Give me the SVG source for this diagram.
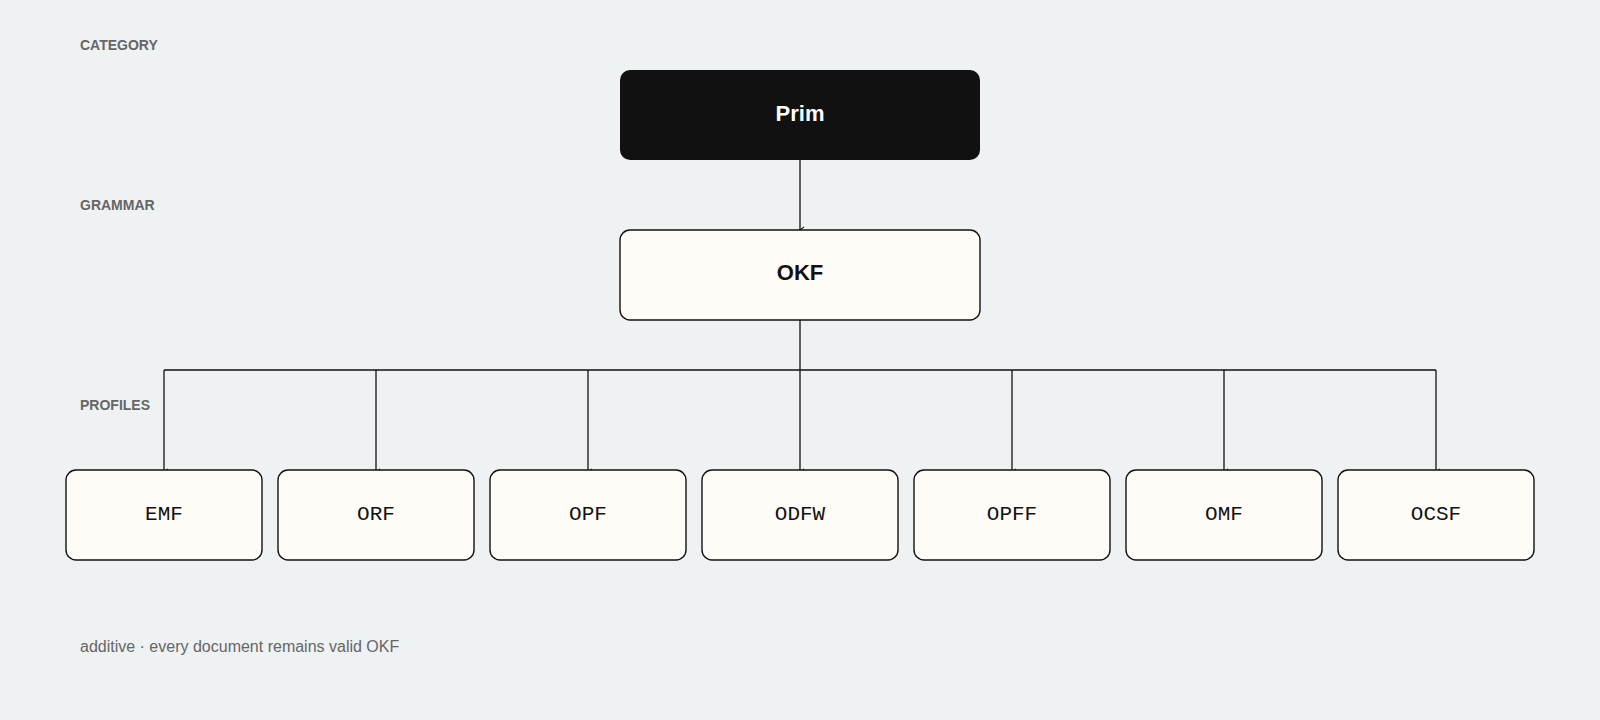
<svg xmlns="http://www.w3.org/2000/svg" width="1600" height="720" viewBox="0 0 1600 720">
<style>
.lbl{font-family:"Liberation Sans",Arial,sans-serif;font-size:14px;font-weight:bold;fill:#666}
.box{fill:#fffcf8;stroke:#111;stroke-width:1.4}
.prof{font-family:"Liberation Mono","Courier New",monospace;font-size:21px;fill:#111;text-anchor:middle}
.ttl{font-family:"Liberation Sans",Arial,sans-serif;font-size:22px;font-weight:bold;text-anchor:middle}
.ln{fill:none;stroke:#111;stroke-width:1.3}
</style>
<defs><marker id="a" viewBox="0 0 10 10" refX="5" refY="9" markerWidth="8" markerHeight="8" orient="auto-start-reverse" markerUnits="userSpaceOnUse"><path d="M1,4 L5,9 L9,4" fill="none" stroke="#111" stroke-width="1.3"/></marker></defs>
<rect width="1600" height="720" fill="#eef2f3"/>
<text class="lbl" x="80" y="50">CATEGORY</text>
<text class="lbl" x="80" y="210">GRAMMAR</text>
<text class="lbl" x="80" y="410">PROFILES</text>
<g id="connectors">
<path class="ln" d="M800,160 V230" marker-end="url(#a)"/>
<path class="ln" d="M800,320 V370 M164,370 H1436"/>
<path class="ln" d="M164,370 V472" marker-end="url(#a)"/>
<path class="ln" d="M376,370 V472" marker-end="url(#a)"/>
<path class="ln" d="M588,370 V472" marker-end="url(#a)"/>
<path class="ln" d="M800,370 V472" marker-end="url(#a)"/>
<path class="ln" d="M1012,370 V472" marker-end="url(#a)"/>
<path class="ln" d="M1224,370 V472" marker-end="url(#a)"/>
<path class="ln" d="M1436,370 V472" marker-end="url(#a)"/>
</g>
<g id="prim"><rect x="620" y="70" width="360" height="90" rx="10" fill="#111"/><text class="ttl" x="800" y="121" fill="#fff">Prim</text></g>
<g id="okf"><rect class="box" x="620" y="230" width="360" height="90" rx="10"/><text class="ttl" x="800" y="280" fill="#111">OKF</text></g>
<g id="emf"><rect class="box" x="66" y="470" width="196" height="90" rx="10"/><text class="prof" x="164" y="520">EMF</text></g>
<g id="orf"><rect class="box" x="278" y="470" width="196" height="90" rx="10"/><text class="prof" x="376" y="520">ORF</text></g>
<g id="opf"><rect class="box" x="490" y="470" width="196" height="90" rx="10"/><text class="prof" x="588" y="520">OPF</text></g>
<g id="odfw"><rect class="box" x="702" y="470" width="196" height="90" rx="10"/><text class="prof" x="800" y="520">ODFW</text></g>
<g id="opff"><rect class="box" x="914" y="470" width="196" height="90" rx="10"/><text class="prof" x="1012" y="520">OPFF</text></g>
<g id="omf"><rect class="box" x="1126" y="470" width="196" height="90" rx="10"/><text class="prof" x="1224" y="520">OMF</text></g>
<g id="ocsf"><rect class="box" x="1338" y="470" width="196" height="90" rx="10"/><text class="prof" x="1436" y="520">OCSF</text></g>
<text x="80" y="652" font-family="Liberation Sans,Arial,sans-serif" font-size="16" fill="#666">additive · every document remains valid OKF</text>
</svg>
